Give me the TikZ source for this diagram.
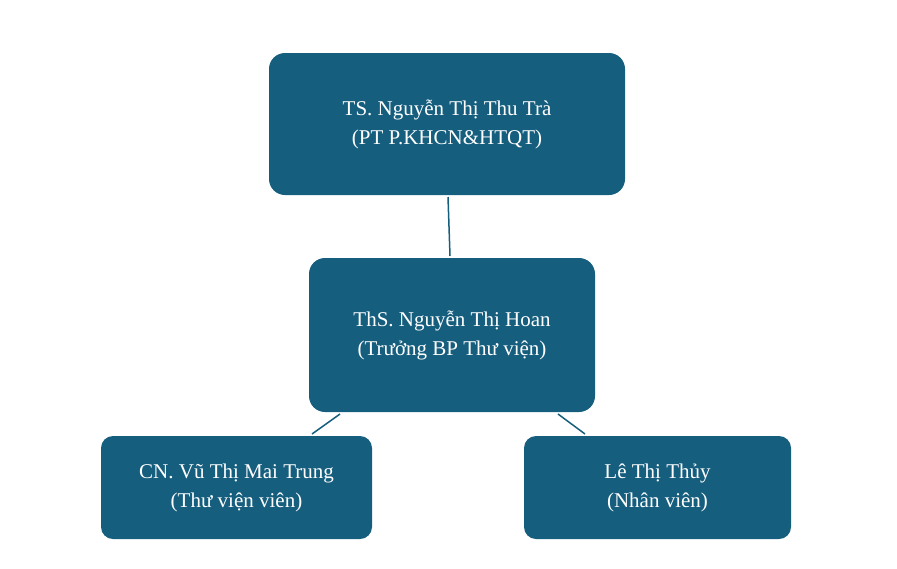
\documentclass[tikz,border=0pt]{standalone}
\usepackage{fontspec}
\setmainfont{Liberation Serif}
\definecolor{boxc}{HTML}{165E7E}
\begin{document}
\begin{tikzpicture}[x=1pt,y=-1pt,
  box/.style={fill=boxc,rounded corners=16pt,text=white,align=center,font=\fontsize{21}{29}\selectfont,inner sep=0pt},
  conn/.style={draw=boxc,line width=1.5pt}]
\useasboundingbox (0,0) rectangle (897,568);
\node[box,minimum width=356pt,minimum height=142pt] (t) at (447,124) {TS. Nguyễn Thị Thu Trà\\(PT P.KHCN\&HTQT)};
\node[box,minimum width=286pt,minimum height=154pt] (m) at (452,335) {ThS. Nguyễn Thị Hoan\\(Trưởng BP Thư viện)};
\node[box,minimum width=271pt,minimum height=103pt,rounded corners=12pt] (l) at (236.5,487.5) {CN. Vũ Thị Mai Trung\\(Thư viện viên)};
\node[box,minimum width=267pt,minimum height=103pt,rounded corners=12pt] (r) at (657.5,487.5) {Lê Thị Thủy\\(Nhân viên)};
\coordinate (a1) at (448,197); \coordinate (a2) at (450,256);
\coordinate (b1) at (340,414); \coordinate (b2) at (312,434);
\coordinate (c1) at (558,414); \coordinate (c2) at (585,434);
\draw[conn] (a1) -- (a2);
\draw[conn] (b1) -- (b2);
\draw[conn] (c1) -- (c2);
\end{tikzpicture}
\end{document}
